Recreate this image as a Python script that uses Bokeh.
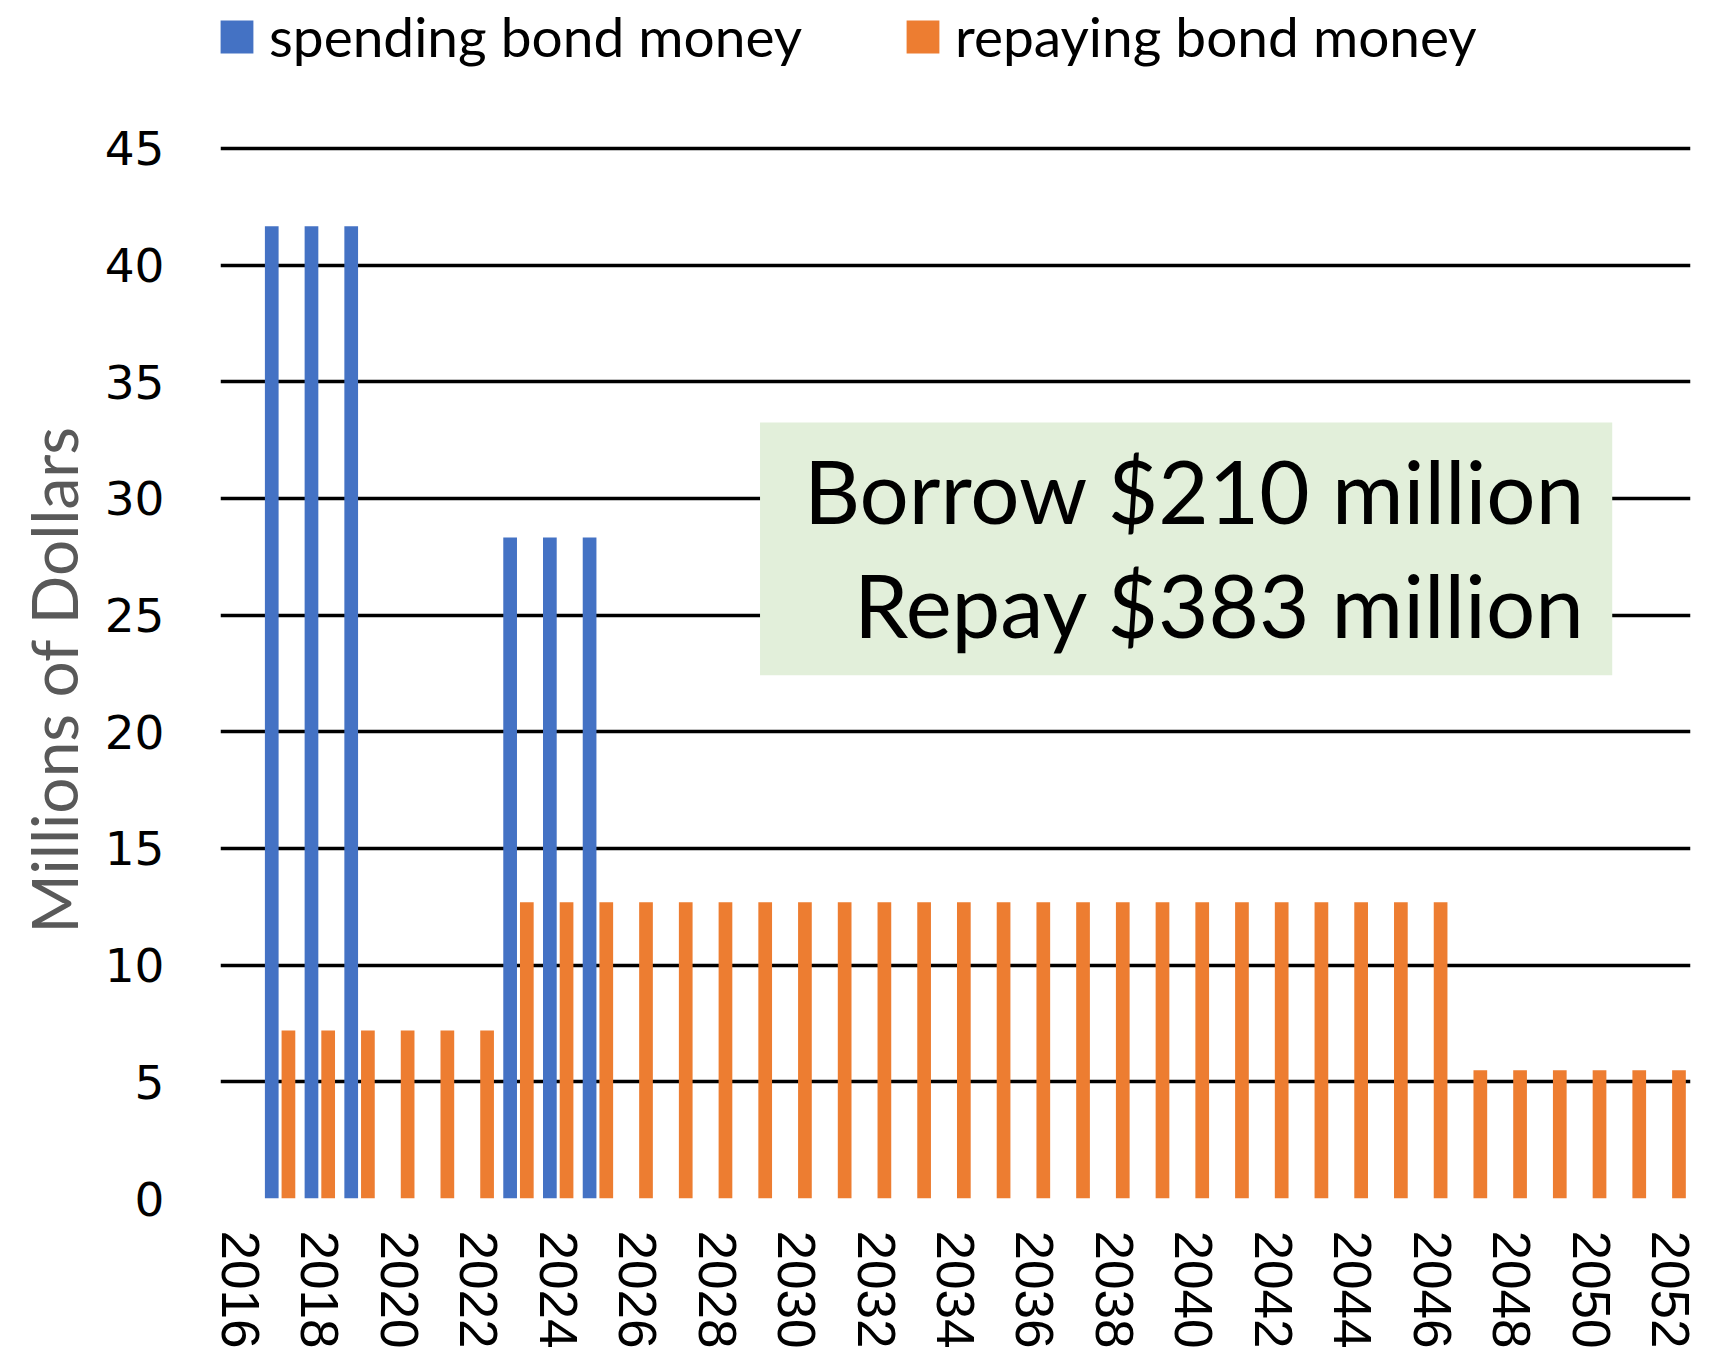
from bokeh.plotting import figure
from bokeh.models import (ColumnDataSource, Range1d, FixedTicker, Legend, LegendItem,
                          BoxAnnotation, Label, Title)
from bokeh.transform import dodge
from bokeh.embed import file_html
from bokeh.resources import INLINE

# ---- data ----
years = [2016, 2017, 2018, 2019, 2020, 2021, 2022, 2023, 2024, 2025,
         2026, 2027, 2028, 2029, 2030, 2031, 2032, 2033, 2034, 2035,
         2036, 2037, 2038, 2039, 2040, 2041, 2042, 2043, 2044, 2045,
         2046, 2047, 2048, 2049, 2050, 2051, 2052]
spending = [0, 41.67, 41.67, 41.67, 0, 0, 0, 28.33, 28.33, 28.33,
            0, 0, 0, 0, 0, 0, 0, 0, 0, 0,
            0, 0, 0, 0, 0, 0, 0, 0, 0, 0,
            0, 0, 0, 0, 0, 0, 0]
repaying = [0, 7.2, 7.2, 7.2, 7.2, 7.2, 7.2, 12.7, 12.7, 12.7,
            12.7, 12.7, 12.7, 12.7, 12.7, 12.7, 12.7, 12.7, 12.7, 12.7,
            12.7, 12.7, 12.7, 12.7, 12.7, 12.7, 12.7, 12.7, 12.7, 12.7,
            12.7, 5.5, 5.5, 5.5, 5.5, 5.5, 5.5]
x_tick_years = [2016, 2018, 2020, 2022, 2024, 2026, 2028, 2030, 2032, 2034,
                2036, 2038, 2040, 2042, 2044, 2046, 2048, 2050, 2052]
y_ticks = [0, 5, 10, 15, 20, 25, 30, 35, 40, 45]
series_names = ["spending bond money", "repaying bond money"]
annotation_lines = ["Borrow $210 million", "Repay $383 million"]
y_title = "Millions of Dollars"

BLUE = "#4472C4"
ORANGE = "#ED7D31"

source = ColumnDataSource(dict(year=years, spending=spending, repaying=repaying))

FRAME_W = 1470
FRAME_H = 1198
Y_END = 51.34   # frame reaches the top of the canvas so the legend sits inside it

p = figure(frame_width=FRAME_W, frame_height=FRAME_H,
           x_range=Range1d(2015.5, 2052.5), y_range=Range1d(0, Y_END),
           output_backend="svg", toolbar_location=None,
           min_border_left=220, min_border_top=0, min_border_bottom=140,
           min_border_right=10, background_fill_color="white",
           border_fill_color="white")
p.outline_line_color = None

r_blue = p.vbar(x=dodge("year", -0.21, range=p.x_range), top="spending", width=0.345,
                source=source, fill_color=BLUE, line_color=None)
r_orange = p.vbar(x=dodge("year", 0.21, range=p.x_range), top="repaying", width=0.345,
                  source=source, fill_color=ORANGE, line_color=None)

# grid
p.xgrid.visible = False
p.ygrid.ticker = FixedTicker(ticks=y_ticks)
p.ygrid.grid_line_color = "black"
p.ygrid.grid_line_width = 3.5

# x axis
xa = p.xaxis[0]
xa.ticker = FixedTicker(ticks=x_tick_years)
xa.major_label_orientation = "vertical"
xa.axis_line_color = None
xa.major_tick_line_color = None
xa.minor_tick_line_color = None
xa.major_tick_out = 0
xa.major_tick_in = 0
xa.major_label_standoff = 32
xa.major_label_text_font = "Liberation Sans"
xa.major_label_text_font_size = "53px"
xa.major_label_text_color = "black"

# y axis
ya = p.yaxis[0]
ya.ticker = FixedTicker(ticks=y_ticks)
ya.axis_line_color = None
ya.major_tick_line_color = None
ya.minor_tick_line_color = None
ya.major_tick_out = 0
ya.major_tick_in = 0
ya.major_label_standoff = 56
ya.major_label_text_font = "DejaVu Sans"
ya.major_label_text_font_size = "47px"
ya.major_label_text_color = "black"

# y-axis title, placed beside the axis and positioned along the 0..45 span
ytitle = Title(text=y_title, align="left", offset=265, vertical_align="bottom",
               standoff=20, text_font="Lato", text_font_size="64px",
               text_font_style="normal", text_color="#595959")
p.add_layout(ytitle, "left")

# legends (two, each positioned separately, inside the frame's top strip)
for item_name, rend, xoff in [(series_names[0], r_blue, -4), (series_names[1], r_orange, 682)]:
    lg = Legend(items=[LegendItem(label=item_name, renderers=[rend])],
                location=(xoff, FRAME_H - 69), orientation="horizontal",
                padding=0, margin=0, spacing=0,
                border_line_color=None, background_fill_alpha=0,
                glyph_width=41, glyph_height=41, label_height=33, label_standoff=12,
                label_text_font="Lato", label_text_font_size="55px",
                label_text_color="black")
    p.add_layout(lg)

# annotation box
box = BoxAnnotation(left=2029.08, right=2050.53, bottom=22.42, top=33.26,
                    fill_color="#E2EFDA", fill_alpha=1.0, line_color=None)
p.add_layout(box)
for txt, yy in zip(annotation_lines, [30.32, 25.44]):
    p.add_layout(Label(x=2049.87, y=yy, text=txt, text_align="right",
                       text_baseline="alphabetic", text_font="Lato",
                       text_font_size="87px", text_color="black"))

open("out.html", "w").write(file_html(p, INLINE))
